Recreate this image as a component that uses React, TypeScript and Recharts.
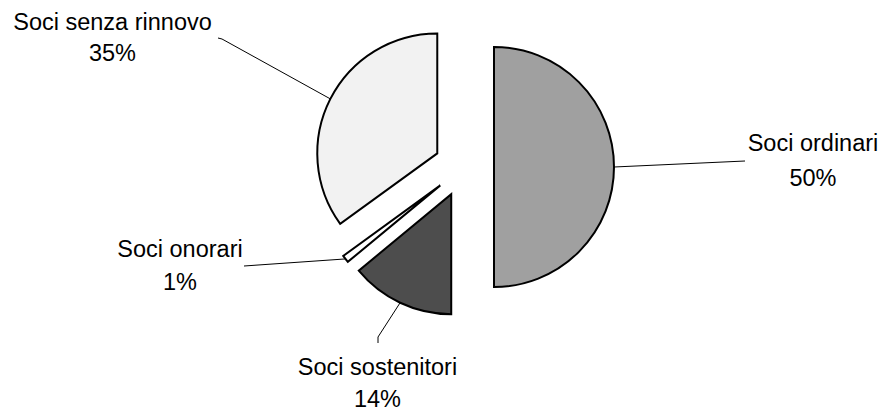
import React from 'react';
import { PieChart, Pie, Cell } from 'recharts';

// ---- data ----
const categories = ['Soci ordinari', 'Soci sostenitori', 'Soci onorari', 'Soci senza rinnovo'];
const shares = [50, 14, 1, 35];
const percentLabels = ['50%', '14%', '1%', '35%'];

const data = categories.map((name, i) => ({ name, value: shares[i] }));

// ---- styles / layout ----
const COLORS = ['#A0A0A0', '#4D4D4D', '#FFFFFF', '#F2F2F2'];
const WIDTH = 887;
const HEIGHT = 416;
const CENTER = { x: 464, y: 167 };
const RADIUS = 120;
const EXPLODE = 30;
const START_ANGLE = 90;
const FONT = '"Liberation Sans", Arial, Helvetica, sans-serif';
const FONT_SIZE = 23.5;

// label text placement and leader-line outer points (drawn toward the slice arc)
const LABEL_LAYOUT = [
  { tx: 813, y1: 151, y2: 185.5, pts: [[745, 161]] },
  { tx: 377.5, y1: 375, y2: 407, pts: [[378, 343], [378, 337]] },
  { tx: 180, y1: 256.5, y2: 290, pts: [[244, 266]] },
  { tx: 112.5, y1: 30, y2: 61, pts: [[218, 38], [222, 39]] },
];

const RAD = Math.PI / 180;
const total = shares.reduce((a, b) => a + b, 0);

function explodedCenter(i: number) {
  const before = shares.slice(0, i).reduce((a, b) => a + b, 0);
  const mid = START_ANGLE - (360 * (before + shares[i] / 2)) / total;
  return {
    x: CENTER.x + EXPLODE * Math.cos(mid * RAD),
    y: CENTER.y - EXPLODE * Math.sin(mid * RAD),
  };
}

function makeLabel(sliceIndex: number) {
  return (props: any) => {
    if (props.index !== sliceIndex) return null;
    const { cx, cy, midAngle, outerRadius } = props;
    const ax = cx + outerRadius * Math.cos(-midAngle * RAD);
    const ay = cy + outerRadius * Math.sin(-midAngle * RAD);
    const lay = LABEL_LAYOUT[sliceIndex];
    const points = [...lay.pts, [ax, ay]].map((p) => p.join(',')).join(' ');
    return (
      <g key={`lbl-${sliceIndex}`}>
        <polyline points={points} fill="none" stroke="#000" strokeWidth={1} />
        <text
          x={lay.tx}
          y={lay.y1}
          textAnchor="middle"
          fontFamily={FONT}
          fontSize={FONT_SIZE}
          fill="#000"
        >
          {categories[sliceIndex]}
        </text>
        <text
          x={lay.tx}
          y={lay.y2}
          textAnchor="middle"
          fontFamily={FONT}
          fontSize={FONT_SIZE}
          fill="#000"
        >
          {percentLabels[sliceIndex]}
        </text>
      </g>
    );
  };
}

export default function App() {
  return (
    <div style={{ position: 'absolute', left: 0, top: 0, width: WIDTH, height: HEIGHT, background: '#fff' }}>
      <PieChart width={WIDTH} height={HEIGHT} margin={{ top: 0, right: 0, bottom: 0, left: 0 }}>
        {categories.map((_, i) => {
          const c = explodedCenter(i);
          return (
            <Pie
              key={`pie-${i}`}
              data={data}
              dataKey="value"
              nameKey="name"
              cx={c.x}
              cy={c.y}
              innerRadius={0}
              outerRadius={RADIUS}
              startAngle={START_ANGLE}
              endAngle={START_ANGLE - 360}
              isAnimationActive={false}
              labelLine={false}
              label={makeLabel(i)}
            >
              {data.map((_, j) => (
                <Cell
                  key={`cell-${i}-${j}`}
                  fill={j === i ? COLORS[j] : 'none'}
                  stroke={j === i ? '#000' : 'none'}
                  strokeWidth={j === i ? 2 : 0}
                />
              ))}
            </Pie>
          );
        })}
      </PieChart>
    </div>
  );
}
